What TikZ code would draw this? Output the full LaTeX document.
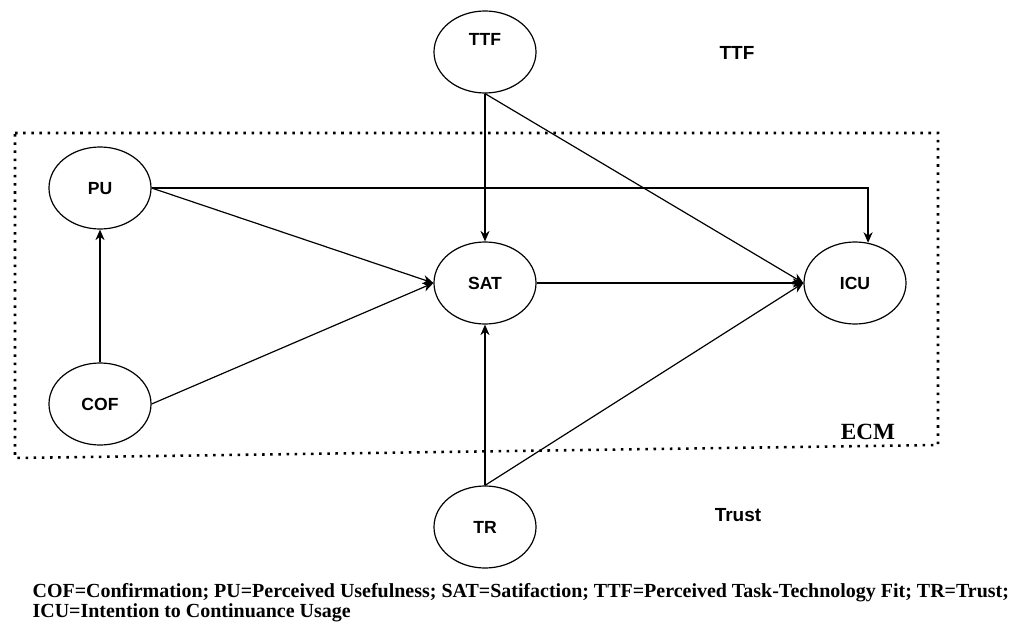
\documentclass[tikz,border=0pt]{standalone}
\usepackage{fontspec}
\setmainfont{Liberation Serif}
\newfontfamily\lbl{Liberation Sans}
\usetikzlibrary{shapes.geometric,arrows.meta}
\begin{document}
\begin{tikzpicture}[x=.025cm,y=-.025cm,line width=.85pt,
		var/.style={draw,ellipse,minimum width=2.55cm,minimum height=2.05cm,inner sep=0pt,font=\lbl\bfseries\fontsize{12.5}{14}\selectfont},
		arr/.style={-{Stealth[length=7.5pt,width=6.5pt]}},
		grp/.style={font=\lbl\bfseries\fontsize{13.5}{15}\selectfont},
		captext/.style={anchor=north west,inner sep=0pt,align=left,font=\bfseries\fontsize{14.2}{12.4}\selectfont}]
	\useasboundingbox (0,0) rectangle (1020,624);
	\path 
	(15,133) coordinate (E1) (938,133) coordinate (E2)
	(938,445) coordinate (E3) (15,458) coordinate (E4)
	;
	\draw[line width=1.8pt,dash pattern=on 1.8pt off 4pt] (E1)--(E2)--(E3)--(E4)--cycle;
	\foreach \n/\x/\y/\d in {TTF/485/52/.65,PU/100/188/0,SAT/485/283/0,ICU/855/283/0,COF/100/404/0,TR/485/527/0} \node[var,text depth=\d cm] (\n) at (\x,\y) {\n};
	\foreach \a/\b in {COF.north/PU.south,PU.east/SAT.west,COF.east/SAT.west,TTF.south/SAT.north,TTF.south/ICU.west,SAT.east/ICU.west,TR.north/SAT.south,TR.north/ICU.west} \draw[arr] (\a)--(\b);
	\draw[arr] (PU.east)-|(ICU.72);
	\node[grp] (ttfgrp) at (737,53) {TTF};
	\node[grp] (trustgrp) at (738,515) {Trust};
	\node[font=\bfseries\fontsize{16.5}{18}\selectfont] (ecm) at (868,432) {ECM};
	\node[captext] (legend) at (32,583) {COF=Confirmation; PU=Perceived Usefulness; SAT=Satifaction; TTF=Perceived Task-Technology Fit; TR=Trust;\\ICU=Intention to Continuance Usage};
\end{tikzpicture}
\end{document}
